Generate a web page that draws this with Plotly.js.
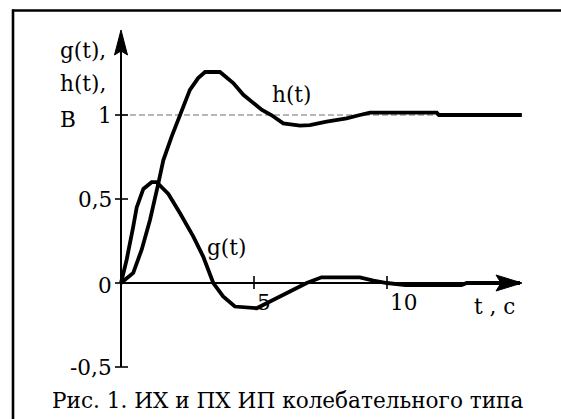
<!DOCTYPE html>
<html><head><meta charset="utf-8">
<script src="https://cdn.plot.ly/plotly-3.0.1.min.js"></script>
<style>html,body{margin:0;padding:0;background:#fff}#chart{width:561px;height:419px}</style>
</head><body><div id="chart"></div>
<script>
// ---- data ----
const hT = [0, 0.46, 0.78, 1.09, 1.4, 1.59, 1.9, 2.22, 2.59, 2.9, 3.16, 3.72, 4.22, 4.6, 4.97, 5.3, 5.65, 6.1, 6.73, 7.1, 7.73, 8.48, 8.98, 9.36, 11.87, 11.95, 15.07];
const hV = [0, 0.06, 0.2, 0.375, 0.59, 0.73, 0.87, 1.0, 1.15, 1.22, 1.256, 1.256, 1.19, 1.12, 1.07, 1.03, 1.0, 0.95, 0.937, 0.94, 0.96, 0.98, 1.0, 1.014, 1.014, 1.0, 1.0];
const gT = [0, 0.21, 0.46, 0.59, 0.84, 1.15, 1.34, 1.78, 2.22, 2.72, 3.09, 3.47, 3.84, 4.28, 5.1, 5.73, 6.35, 6.98, 7.54, 8.98, 9.49, 10.0, 10.7, 12.8, 13.0, 15.0];
const gV = [0, 0.137, 0.335, 0.45, 0.56, 0.60, 0.60, 0.53, 0.415, 0.276, 0.157, 0, -0.08, -0.14, -0.15, -0.10, -0.05, 0, 0.034, 0.034, 0.014, 0, -0.012, -0.012, 0, 0];
const yTicks = [1, 0.5, 0, -0.5];
const yTickLabels = ['1', '0,5', '0', '-0,5'];
const xTicks = [5, 10];
const xTickLabels = ['5', '10'];
const yTitleLines = ['g(t),', 'h(t),', 'В'];
const xTitle = 't , с';
const curveNames = ['h(t)', 'g(t)'];
const caption = 'Рис. 1. ИХ и ПХ ИП колебательного типа';
const steadyLevel = 1;
const xEnd = 15.075, yEnd = 1.506, yStart = -0.5;

// ---- geometry ----
const W = 561, H = 419;
const ox = 121, oy = 283, sx = 26.6, sy = 168;
const xr = [-ox / sx, (W - ox) / sx];
const yr = [-(H - oy) / sy, oy / sy];
const px = x => x / W, py = y => 1 - y / H;
const FONT = 'DejaVu Serif';
const FS = 21.6;

const traces = [
  {x: hT, y: hV, mode: 'lines', line: {color: '#000', width: 3.8}, name: curveNames[0], hoverinfo: 'skip'},
  {x: gT, y: gV, mode: 'lines', line: {color: '#000', width: 3.8}, name: curveNames[1], hoverinfo: 'skip'}
];

const shapes = [];
shapes.push({type: 'line', xref: 'x', yref: 'y', x0: 0, x1: 12, y0: steadyLevel, y1: steadyLevel,
  line: {color: '#a0a0a0', width: 1.4, dash: '6px,3px'}, layer: 'below'});
shapes.push({type: 'line', xref: 'x', yref: 'y', x0: 0, x1: xEnd - 0.6, y0: 0, y1: 0, line: {color: '#000', width: 2}, layer: 'below'});
shapes.push({type: 'line', xref: 'x', yref: 'y', x0: 0, x1: 0, y0: yStart, y1: yEnd - 0.1, line: {color: '#000', width: 2}, layer: 'below'});
shapes.push({type: 'path', xref: 'x', yref: 'y', xsizemode: 'pixel', ysizemode: 'pixel', xanchor: xEnd, yanchor: 0,
  path: 'M0,0 L-26,8 L-21,0 L-26,-8 Z', fillcolor: '#000', line: {color: '#000', width: 1}});
shapes.push({type: 'path', xref: 'x', yref: 'y', xsizemode: 'pixel', ysizemode: 'pixel', xanchor: 0, yanchor: yEnd,
  path: 'M0,0 L-6.5,-25 L0,-21 L6.5,-25 Z', fillcolor: '#000', line: {color: '#000', width: 1}});
yTicks.forEach(v => shapes.push({type: 'line', xref: 'x', yref: 'y', xsizemode: 'pixel', xanchor: 0, x0: -6, x1: 7, y0: v, y1: v, line: {color: '#000', width: 1.6}}));
xTicks.forEach(v => shapes.push({type: 'line', xref: 'x', yref: 'y', ysizemode: 'pixel', yanchor: 0, x0: v, x1: v, y0: -6, y1: 7, line: {color: '#000', width: 1.6}}));
shapes.push({type: 'line', xref: 'paper', yref: 'paper', x0: px(12), x1: px(W + 5), y0: py(10.5), y1: py(10.5), line: {color: '#000', width: 2.6}});
shapes.push({type: 'line', xref: 'paper', yref: 'paper', x0: px(13), x1: px(13), y0: py(9.5), y1: py(H + 5), line: {color: '#000', width: 2.6}});

const font = {family: FONT, size: FS, color: '#000'};
const ann = [];
yTicks.forEach((v, i) => ann.push({xref: 'x', yref: 'y', x: 0, y: v, text: yTickLabels[i], showarrow: false,
  xanchor: 'right', yanchor: 'middle', xshift: -7, yshift: v === 0 ? -2 : 0, font}));
xTicks.forEach((v, i) => ann.push({xref: 'x', yref: 'y', x: v, y: 0, text: xTickLabels[i], showarrow: false,
  xanchor: 'left', yanchor: 'middle', xshift: 1, yshift: -19, font}));
const yTitlePos = [51, 84, 120];
yTitleLines.forEach((t, i) => ann.push({xref: 'paper', yref: 'paper', x: px(58), y: py(yTitlePos[i]), text: t, showarrow: false,
  xanchor: 'left', yanchor: 'middle', font}));
ann.push({xref: 'paper', yref: 'paper', x: px(494), y: py(306), text: xTitle, showarrow: false, xanchor: 'center', yanchor: 'middle', font});
ann.push({xref: 'paper', yref: 'paper', x: px(291.5), y: py(95), text: curveNames[0], showarrow: false, xanchor: 'center', yanchor: 'middle', font});
ann.push({xref: 'paper', yref: 'paper', x: px(226), y: py(247), text: curveNames[1], showarrow: false, xanchor: 'center', yanchor: 'middle', font});
ann.push({xref: 'paper', yref: 'paper', x: px(287.5), y: py(400), text: caption, showarrow: false, xanchor: 'center', yanchor: 'middle', font});

const layout = {
  width: W, height: H, margin: {l: 0, r: 0, t: 0, b: 0, pad: 0},
  paper_bgcolor: '#fff', plot_bgcolor: '#fff', showlegend: false,
  xaxis: {range: xr, visible: false, fixedrange: true},
  yaxis: {range: yr, visible: false, fixedrange: true},
  shapes, annotations: ann
};
Plotly.newPlot('chart', traces, layout, {staticPlot: true, displayModeBar: false});
</script></body></html>
